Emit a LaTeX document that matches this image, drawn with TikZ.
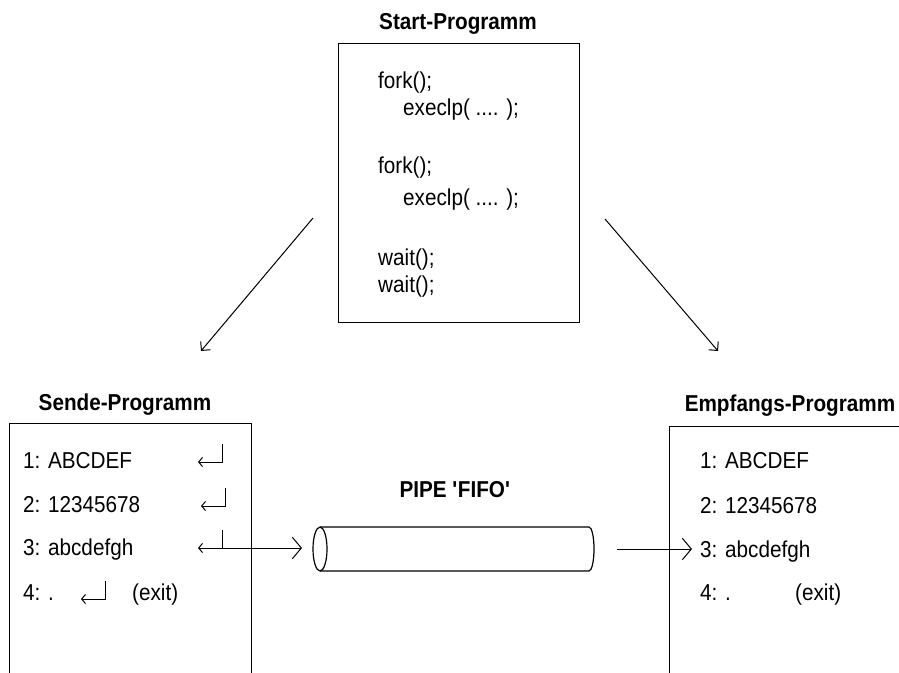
\documentclass[tikz,border=0pt]{standalone}
\usepackage{fontspec}
\setmainfont{Liberation Sans}[FakeStretch=0.9]
\usetikzlibrary{arrows.meta}
\begin{document}
\begin{tikzpicture}[x=1pt,y=-1pt,
  prog/.style={draw,line width=1.3pt,rectangle,inner sep=0pt,anchor=north west},
  title/.style={font=\fontsize{23}{27}\selectfont\bfseries,anchor=base,inner sep=0pt},
  code/.style={font=\fontsize{23}{27}\selectfont,anchor=base west,inner sep=0pt},
  conn/.style={line width=1pt,-{Straight Barb[angle=90:9pt]}},
  flow/.style={line width=1pt,-{Straight Barb[angle=100:14pt]}},
  pipeline/.style={line width=1.2pt},
  ret/.pic={\draw[line width=1pt,{Straight Barb[angle=100:6pt]}-] (-24,0) -- (0,0) -- (0,-18);}
]
\clip (0,0) rectangle (899,672);
\useasboundingbox (0,0) rectangle (899,672);

% start program
\node[prog,minimum width=241pt,minimum height=279pt] (start) at (338,43) {};
\node[title] (tstart) at (458,29) {Start-Programm};
\node[code] (f1) at (378,88)  {fork();};
\node[code] (e1) at (403,115) {execlp( .... );};
\node[code] (f2) at (378,173) {fork();};
\node[code] (e2) at (403,205) {execlp( .... );};
\node[code] (w1) at (378,265) {wait();};
\node[code] (w2) at (378,292) {wait();};

% sending program
\node[prog,minimum width=242pt,minimum height=300pt] (sende) at (9,423) {};
\node[title] (tsende) at (125,410) {Sende-Programm};
\node[code] (s1) at (23,468) {1: ABCDEF};
\node[code] (s2) at (23,512) {2: 12345678};
\node[code] (s3) at (23,555) {3: abcdefgh};
\node[code] (s4) at (23,600) {4: .};
\node[code] (sx) at (132,600) {(exit)};
\pic at (222,462) {ret};
\pic at (225,506) {ret};
\pic at (222,548) {ret};
\pic at (105,599) {ret};

% receiving program
\node[prog,minimum width=260pt,minimum height=300pt] (empf) at (669,426) {};
\node[title] (tempf) at (790,411) {Empfangs-Programm};
\node[code] (r1) at (700,468) {1: ABCDEF};
\node[code] (r2) at (700,513) {2: 12345678};
\node[code] (r3) at (700,557) {3: abcdefgh};
\node[code] (r4) at (700,600) {4: .};
\node[code] (rx) at (795,600) {(exit)};

% the pipe
\node[title] (tpipe) at (455,497) {PIPE \textquotesingle FIFO\textquotesingle};
\draw[pipeline] (320,549) ellipse [x radius=7,y radius=22];
\draw[pipeline] (320,527) -- (589,527)
  arc[start angle=-90,end angle=90,x radius=5,y radius=22] -- (320,571);

% connectors
\coordinate (la) at (313,218);
\coordinate (lb) at (201,351);
\coordinate (ra) at (605,219);
\coordinate (rb) at (718,351);
\coordinate (sout) at (222,548);
\coordinate (pin) at (302,548);
\coordinate (pout) at (617,549);
\coordinate (rin) at (692,549);
\draw[conn] (la) -- (lb);
\draw[conn] (ra) -- (rb);
\draw[flow] (sout) -- (pin);
\draw[flow] (pout) -- (rin);
\end{tikzpicture}
\end{document}
